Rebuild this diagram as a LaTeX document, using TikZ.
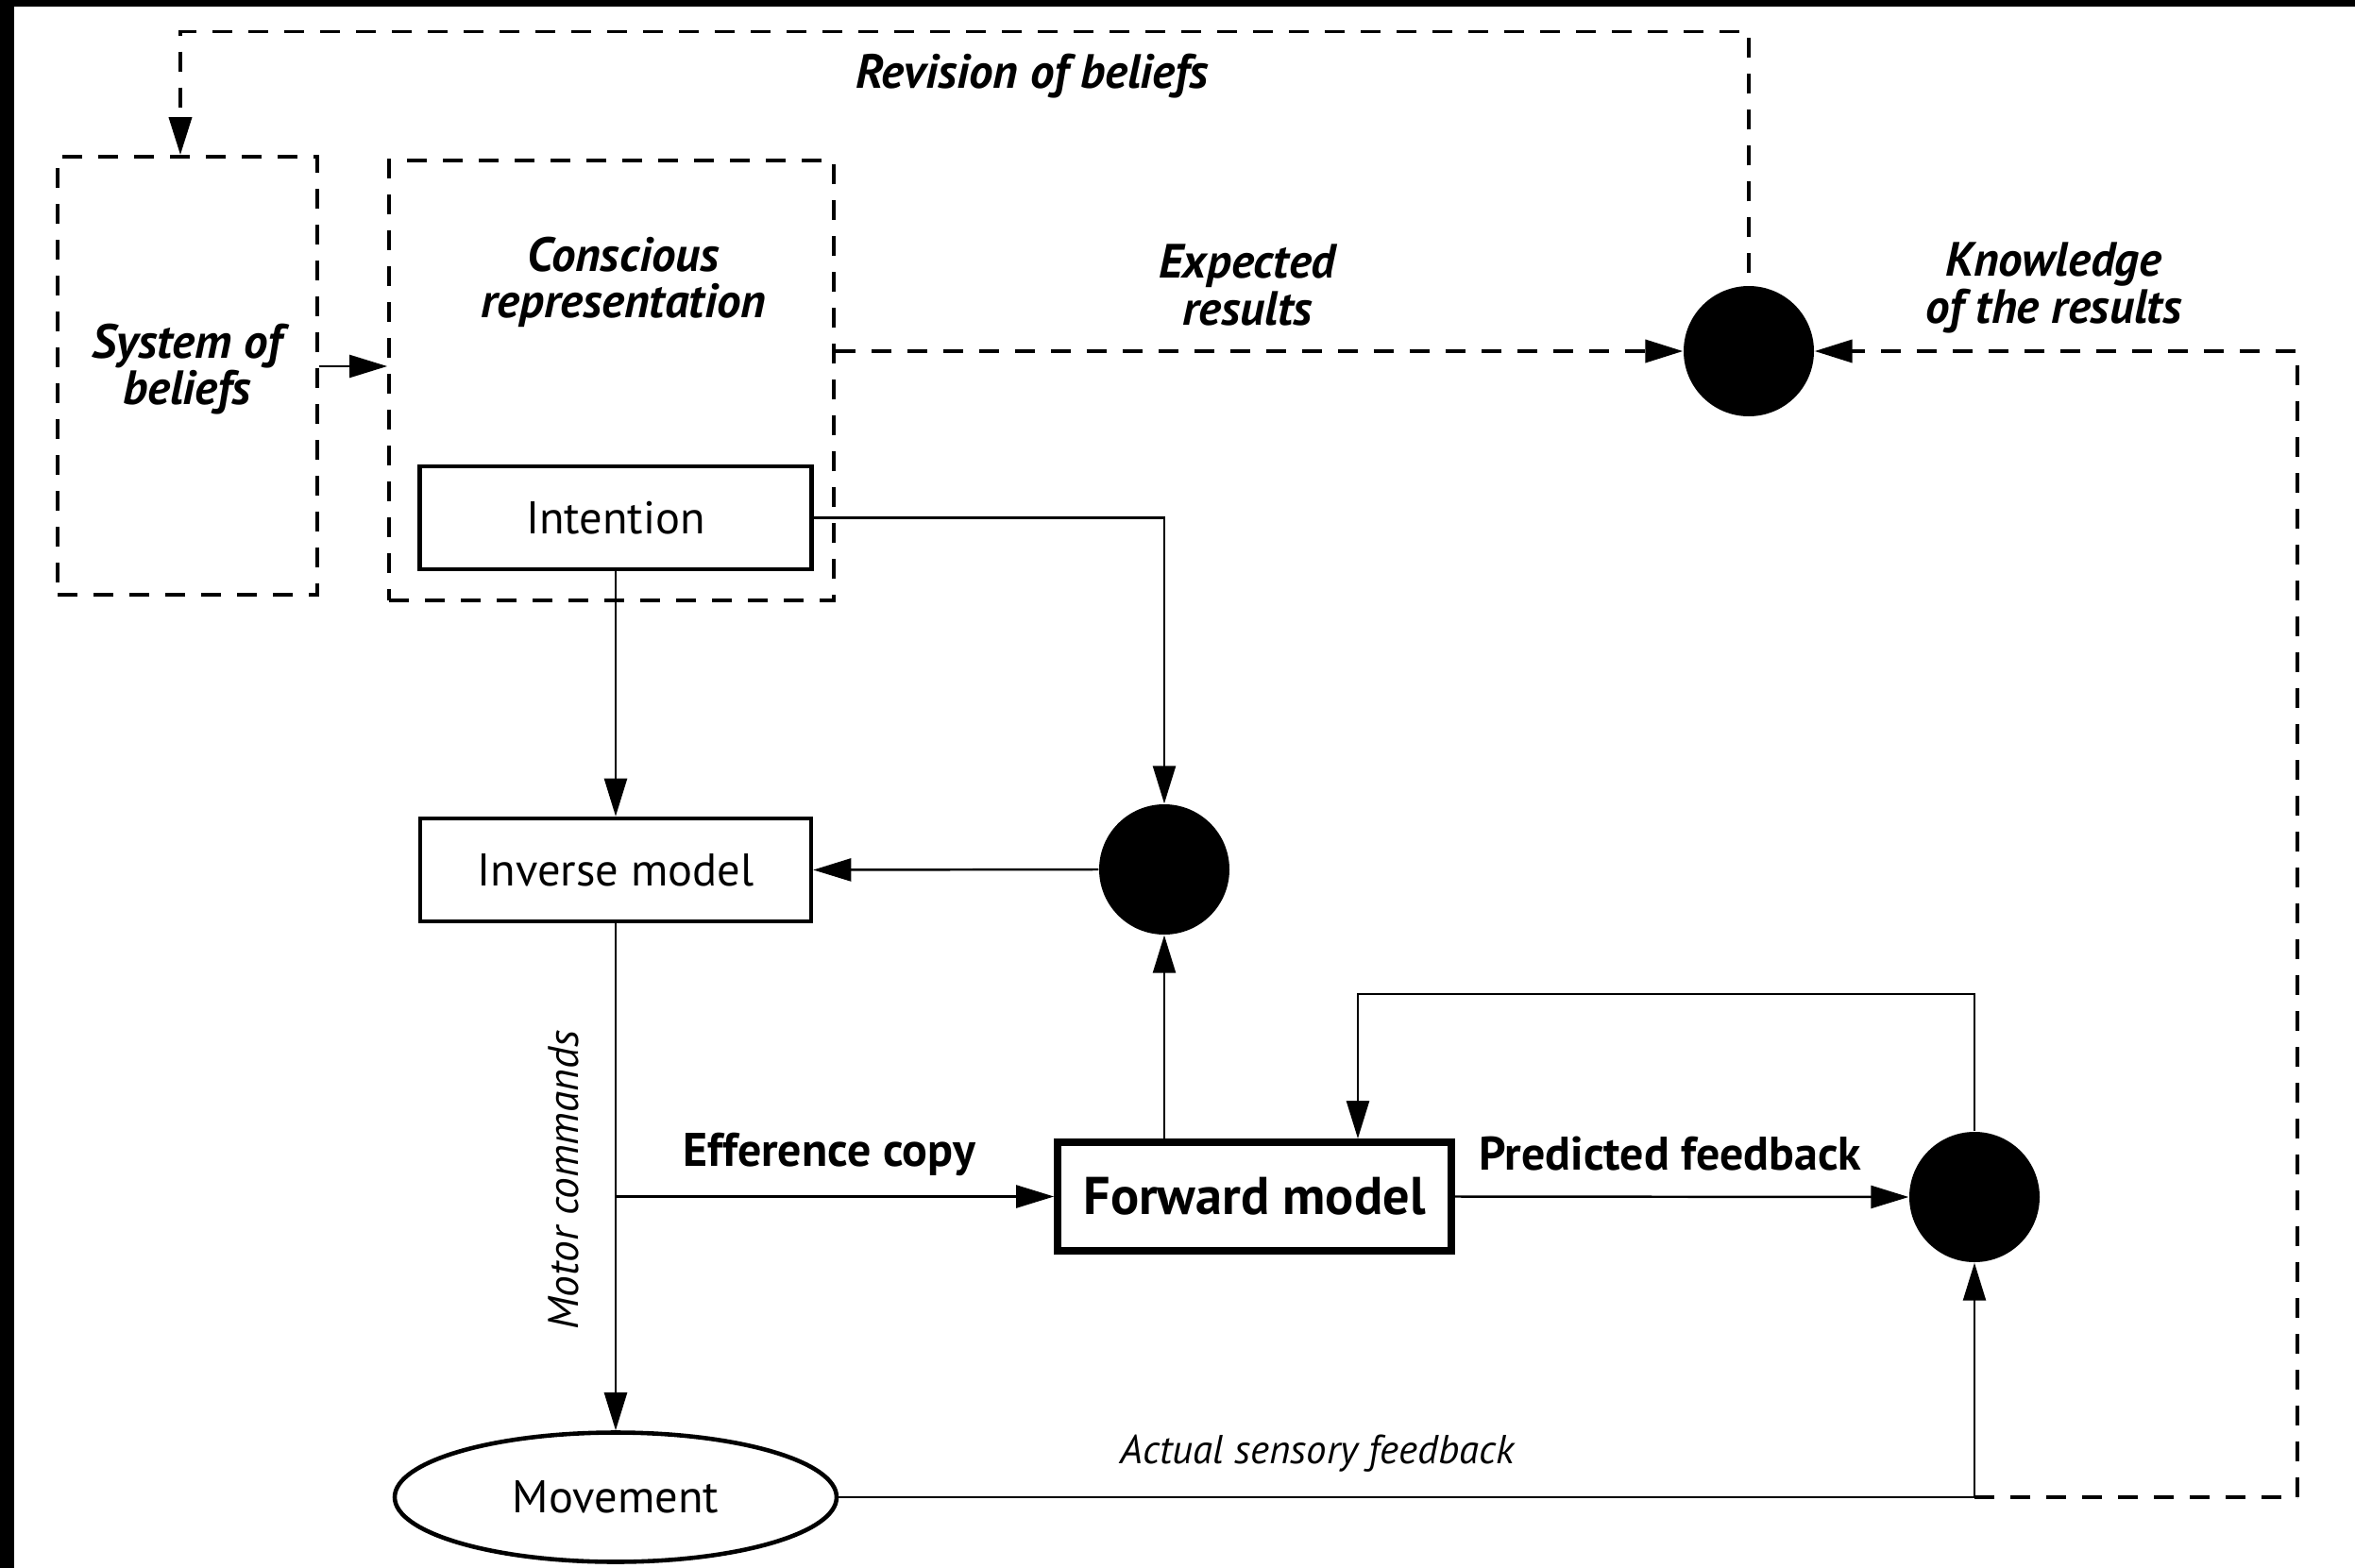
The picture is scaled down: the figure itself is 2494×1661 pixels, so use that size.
\documentclass[tikz,border=0pt]{standalone}
\usepackage{fontspec}
\setmainfont{PT Sans}
\usetikzlibrary{arrows.meta,shapes.geometric,calc}
\begin{document}
\begin{tikzpicture}[x=0.1mm,y=-0.1mm,
  >={Triangle[length=4mm,width=2.4mm]},
  conn/.style={line width=0.7pt,->},
  dconn/.style={line width=1.1pt,dash pattern=on 2.1mm off 1.7mm,->},
  dbox/.style={draw,line width=1.1pt,dash pattern=on 2.1mm off 1.7mm,rectangle,inner sep=0pt},
  plainbox/.style={draw,line width=1.3pt,rectangle,inner sep=0pt,font=\fontsize{13.8}{15}\selectfont},
  fmbox/.style={draw,line width=2.2pt,rectangle,inner sep=0pt,font=\fontsize{16}{18}\selectfont\bfseries},
  dot/.style={circle,fill=black,minimum size=13.8mm,inner sep=0pt},
  lab/.style={font=\fontsize{14.5}{14}\selectfont\bfseries\itshape,align=center,inner sep=0pt},
  semi/.style={font=\fontsize{14.2}{16}\selectfont\bfseries,inner sep=0pt},
  itl/.style={font=\fontsize{12.5}{14}\selectfont\itshape,inner sep=0pt}
]
\useasboundingbox (0,0) rectangle (2494,1661);
\fill[white] (0,0) rectangle (2494,1661);
% dark frame strips along the top and left edges
\fill[black] (0,0) rectangle (2494,7);
\fill[black] (0,0) rectangle (15,1661);

% boxes
\node[dbox,minimum width=27.5mm,minimum height=46.4mm] (sys) at (198.5,398) {};
\node[lab] (systxt) at (198,391) {System of\\beliefs};
\node[dbox,minimum width=47.1mm,minimum height=46.6mm] (cons) at (647.5,403) {};
\node[lab] (constxt) at (660,299) {Conscious\\representation};
\node[plainbox,minimum width=41.5mm,minimum height=10.9mm] (int) at (652,548.5) {Intention};
\node[plainbox,minimum width=41.4mm,minimum height=10.9mm] (inv) at (652,921.5) {Inverse model};
\node[fmbox,minimum width=41.7mm,minimum height=11.5mm] (fm) at (1328.5,1267.5) {Forward model};
\node[ellipse,draw,line width=1.3pt,inner sep=0pt,minimum width=46.8mm,minimum height=13.7mm,font=\fontsize{13.8}{15}\selectfont] (mov) at (652,1586) {Movement};

% comparators
\node[dot] (c1) at (1852,372) {};
\node[dot] (c2) at (1233,921) {};
\node[dot] (c3) at (2091,1268) {};

% helper points
\coordinate (ySB) at (0,388);
\coordinate (rvA) at (1852,33.5);
\coordinate (rvB) at (191,33.5);
\coordinate (kn) at (2433,1586);
\coordinate (lpB) at (1438,1053);

% dashed loops
\draw[dconn] ([yshift=1.3mm]c1.north) -- (rvA) -- (rvB) -- (rvB |- sys.north);
\draw[conn] (sys.east |- ySB) -- (cons.west |- ySB);
\draw[dconn] (cons.east |- c1) -- (c1.west);
\draw[dconn,-] (c3 |- mov) -- (kn);
\draw[dconn] (kn) -- (kn |- c1) -- (c1.east);

% solid connectors
\draw[conn] (int.east) -| (c2.north);
\draw[conn] (int.south) -- (inv.north);
\draw[conn] (c2.west) -- (inv.east);
\draw[conn] (fm.north -| c2) -- (c2.south);
\draw[conn] (inv.south) -- (mov.north);
\coordinate (ej) at (inv |- fm);
\draw[conn] (ej) -- (fm.west);
\draw[conn] (fm.east) -- (c3.west);
\draw[conn] (c3.north) -- (c3 |- lpB) -- (lpB) -- (lpB |- fm.north);
\draw[conn] (mov.east) -| (c3.south);

% labels
\node[lab] (rev) at (1093,81) {Revision of beliefs};
\node[lab] (exp) at (1321,302) {Expected\\results};
\node[lab] (know) at (2175,305) {Knowledge\\of the results};
\node[semi] (eff) at (878,1223) {Efference copy};
\node[semi] (pred) at (1769,1222) {Predicted feedback};
\node[itl,rotate=90,font=\fontsize{12.9}{14}\selectfont\itshape] (mot) at (597,1250) {Motor commands};
\node[itl,font=\fontsize{12.2}{14}\selectfont\itshape] (act) at (1395,1540) {Actual sensory feedback};
\end{tikzpicture}
\end{document}
